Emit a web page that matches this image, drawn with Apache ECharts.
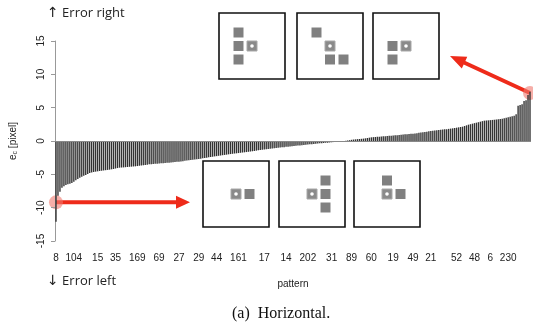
<!DOCTYPE html>
<html>
<head>
<meta charset="utf-8">
<script src="https://cdn.jsdelivr.net/npm/echarts@6/dist/echarts.min.js"></script>
<style>
  html, body { margin: 0; padding: 0; background: #fff; }
  #main { width: 533px; height: 330px; }
</style>
</head>
<body>
<div id="main"></div>
<script>
// Horizontal localisation error per pattern, sorted ascending (pixels)
const errorValues = [
  -12.1, -8.2, -7.6, -7.0, -6.8, -6.6, -6.5, -6.4, -6.3, -6.1,
  -5.9, -5.7, -5.5, -5.35, -5.2, -5.1, -4.95, -4.8, -4.72, -4.65,
  -4.6, -4.55, -4.5, -4.46, -4.42, -4.38, -4.34, -4.3, -4.25, -4.2,
  -4.13, -4.06, -4.0, -3.98, -3.96, -3.93, -3.9, -3.87, -3.85, -3.82,
  -3.8, -3.76, -3.72, -3.68, -3.64, -3.6, -3.55, -3.5, -3.48, -3.46,
  -3.43, -3.4, -3.38, -3.35, -3.32, -3.3, -3.28, -3.25, -3.22, -3.2,
  -3.16, -3.13, -3.1, -3.06, -3.02, -2.98, -2.94, -2.9, -2.86, -2.82,
  -2.78, -2.74, -2.7, -2.65, -2.6, -2.55, -2.5, -2.45, -2.4, -2.36,
  -2.31, -2.27, -2.22, -2.18, -2.13, -2.09, -2.05, -2.0, -1.96, -1.92,
  -1.88, -1.85, -1.81, -1.77, -1.73, -1.7, -1.66, -1.62, -1.58, -1.54,
  -1.5, -1.45, -1.4, -1.36, -1.32, -1.28, -1.24, -1.2, -1.16, -1.12,
  -1.08, -1.05, -1.02, -0.98, -0.95, -0.92, -0.88, -0.85, -0.82, -0.78,
  -0.75, -0.72, -0.69, -0.66, -0.63, -0.6, -0.56, -0.53, -0.5, -0.47,
  -0.44, -0.41, -0.38, -0.35, -0.32, -0.3, -0.27, -0.25, -0.22, -0.19,
  -0.16, -0.13, -0.1, -0.07, -0.05, -0.02,
  0.03, 0.08, 0.12, 0.18, 0.22, 0.25, 0.28, 0.3, 0.33, 0.36,
  0.4, 0.45, 0.5, 0.55, 0.58, 0.6, 0.62, 0.65, 0.67, 0.7,
  0.72, 0.75, 0.78, 0.8, 0.82, 0.85, 0.88, 0.9, 0.93, 0.96,
  1.0, 1.02, 1.05, 1.08, 1.1, 1.14, 1.18, 1.22, 1.26, 1.3,
  1.36, 1.4, 1.45, 1.5, 1.55, 1.58, 1.62, 1.65, 1.68, 1.72,
  1.75, 1.78, 1.82, 1.86, 1.9, 1.95, 2.0, 2.05, 2.1, 2.15,
  2.25, 2.35, 2.45, 2.52, 2.6, 2.68, 2.75, 2.82, 2.9, 2.98,
  3.05, 3.08, 3.1, 3.13, 3.16, 3.19, 3.22, 3.25, 3.3, 3.35,
  3.4, 3.48, 3.55, 3.62, 3.7, 3.8, 4.0, 5.3, 5.4, 5.5,
  6.0, 6.1, 6.9, 7.4
];

// Pattern ids that are printed under the axis, and the bar each one belongs to
const patternIds  = ['8', '104', '15', '35', '169', '69', '27', '29', '44', '161', '17', '14',
                     '202', '31', '89', '60', '19', '49', '21', '52', '48', '6', '230'];
const patternBars = [0, 9, 21, 30, 41, 52, 62, 72, 81, 92, 105, 116,
                     127, 139, 149, 159, 170, 180, 189, 202, 211, 219, 228];

const yTicks = [-15, -10, -5, 0, 5, 10, 15];

// Example neighbour layouts: [col,row] offsets of filled cells; the centre cell holds the dot
const layoutsRight = [
  [[-1, -1], [-1, 0], [-1, 1]],
  [[-1, -1], [0, 1], [1, 1]],
  [[-1, 0], [-1, 1]]
];
const layoutsLeft = [
  [[1, 0]],
  [[1, -1], [1, 0], [1, 1]],
  [[0, -1], [1, 0]]
];

// Category names: one per bar, blank where no id is printed
const categories = errorValues.map(() => '');
patternBars.forEach((b, k) => { categories[b] = patternIds[k]; });

const chart = echarts.init(document.getElementById('main'), null, { renderer: 'canvas' });

const axisFont = 'Liberation Sans, Arial, sans-serif';

chart.setOption({
  animation: false,
  grid: { left: 55, right: 0, top: 41, bottom: 89, containLabel: false },
  xAxis: {
    type: 'category',
    data: categories,
    name: 'pattern',
    nameLocation: 'middle',
    nameGap: 38,
    nameTextStyle: { fontFamily: axisFont, fontSize: 10, color: '#222' },
    axisLine: { show: false, onZero: false },
    axisTick: { show: false },
    axisLabel: { interval: 0, margin: 12, fontFamily: axisFont, fontSize: 10, color: '#222' },
    splitLine: { show: false }
  },
  yAxis: {
    type: 'value',
    min: yTicks[0],
    max: yTicks[yTicks.length - 1],
    interval: 5,
    name: '{e|e}{c|c}{e| [pixel]}',
    nameLocation: 'middle',
    nameRotate: 90,
    nameGap: 36,
    nameTextStyle: {
      rich: {
        e: { fontFamily: axisFont, fontSize: 10, color: '#222' },
        c: { fontFamily: axisFont, fontSize: 7, color: '#222', padding: [5, 0, 0, 0] }
      }
    },
    axisLine: { show: true, lineStyle: { color: '#999', width: 1 } },
    axisTick: { show: true, length: 4, lineStyle: { color: '#999' } },
    axisLabel: { rotate: 90, margin: 9, fontFamily: axisFont, fontSize: 10, color: '#222' },
    splitLine: { show: false }
  },
  series: [{
    type: 'bar',
    data: errorValues,
    barCategoryGap: '30%',
    itemStyle: { color: '#333' },
    markLine: {
      silent: true,
      symbol: 'none',
      label: { show: false },
      lineStyle: { color: '#888', width: 1, type: 'solid' },
      data: [{ yAxis: 0 }]
    }
  }]
});

// ---- annotations ----
function arrowPolygon(x0, y0, x1, y1, shaft, headLen, headW) {
  const dx = x1 - x0, dy = y1 - y0;
  const len = Math.hypot(dx, dy);
  const ux = dx / len, uy = dy / len;
  const nx = -uy, ny = ux;
  const bx = x1 - ux * headLen, by = y1 - uy * headLen;
  const s = shaft / 2, h = headW / 2;
  return [
    [x0 + nx * s, y0 + ny * s],
    [bx + nx * s, by + ny * s],
    [bx + nx * h, by + ny * h],
    [x1, y1],
    [bx - nx * h, by - ny * h],
    [bx - nx * s, by - ny * s],
    [x0 - nx * s, y0 - ny * s]
  ];
}

function insetBox(x, y, cells) {
  const size = 66, pitch = 13.5, sq = 10;
  const cx = x + size / 2, cy = y + size / 2;
  const children = [{
    type: 'rect',
    shape: { x: x, y: y, width: size, height: size },
    style: { fill: '#fff', stroke: '#111', lineWidth: 1.6 }
  }];
  cells.forEach(([c, r]) => {
    children.push({
      type: 'rect',
      shape: { x: cx + c * pitch - sq / 2, y: cy + r * pitch - sq / 2, width: sq, height: sq },
      style: { fill: '#808080' }
    });
  });
  children.push({
    type: 'rect',
    shape: { x: cx - sq / 2, y: cy - sq / 2, width: sq, height: sq },
    style: { fill: '#8a8a8a', stroke: '#a8a8a8', lineWidth: 1 }
  });
  children.push({
    type: 'circle',
    shape: { cx: cx, cy: cy, r: 1.8 },
    style: { fill: '#fff' }
  });
  return { type: 'group', children: children };
}

const first = chart.convertToPixel({ seriesIndex: 0 }, [0, -9.2]);
const last = chart.convertToPixel({ seriesIndex: 0 }, [errorValues.length - 1, 7.2]);

const red = '#ee2b1a';
const graphics = [];

[219, 297, 373].forEach((x, i) => graphics.push(insetBox(x, 13, layoutsRight[i])));
[203, 279, 354].forEach((x, i) => graphics.push(insetBox(x, 161, layoutsLeft[i])));

graphics.push({
  type: 'polygon',
  shape: { points: arrowPolygon(first[0], first[1], 190, first[1], 4, 14, 13) },
  style: { fill: red }
});
graphics.push({
  type: 'polygon',
  shape: { points: arrowPolygon(last[0], last[1], 450, 56, 4, 16, 13) },
  style: { fill: red }
});
graphics.push({
  type: 'circle',
  shape: { cx: first[0], cy: first[1], r: 7 },
  style: { fill: 'rgba(240,120,110,0.6)' }
});
graphics.push({
  type: 'circle',
  shape: { cx: last[0], cy: last[1], r: 7 },
  style: { fill: 'rgba(240,120,110,0.6)' }
});

const noteRich = {
  a: { fontFamily: '"DejaVu Sans", sans-serif', fontSize: 14, fill: '#222' },
  t: { fontFamily: '"Open Sans", sans-serif', fontSize: 13, fill: '#222' }
};
graphics.push({
  type: 'text', left: 47, top: 6,
  style: { text: '{a|↑}{t| Error right}', rich: noteRich }
});
graphics.push({
  type: 'text', left: 47, top: 274,
  style: { text: '{a|↓}{t| Error left}', rich: noteRich }
});
graphics.push({
  type: 'text', left: 232, top: 306,
  style: { text: '(a)  Horizontal.', font: '16px "Liberation Serif", "Times New Roman", serif', fill: '#111' }
});

chart.setOption({ graphic: graphics });
</script>
</body>
</html>
